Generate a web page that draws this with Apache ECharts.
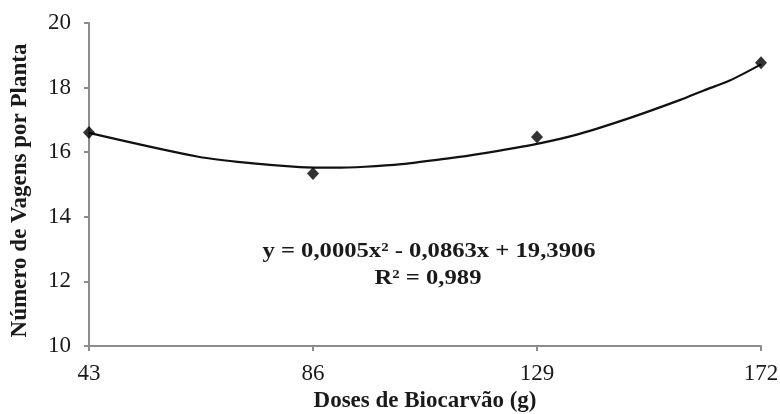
<!DOCTYPE html>
<html lang="pt">
<head>
    <meta charset="UTF-8">
    <title>Vagens por Planta</title>
    <script src="https://cdn.jsdelivr.net/npm/echarts@6/dist/echarts.min.js"></script>
    <style>
        html, body { margin: 0; padding: 0; background: #fff; }
    </style>
</head>
<body>
<div id="chart" style="width: 780px;height:414px"></div>
<script>
    // doses e medias observadas
    var doses = [43, 86, 129, 172];
    var vagens = [16.61, 15.34, 16.47, 18.77];

    var trendX = [43, 64, 74, 83.5, 90, 96, 103, 112, 118, 129, 137, 147, 156.5, 161, 166, 172];
    var trendY = [16.6, 15.86, 15.66, 15.54, 15.52, 15.55, 15.63, 15.81, 15.95, 16.26, 16.56, 17.07, 17.62, 17.91, 18.22, 18.72];

    var yTicks = [10, 12, 14, 16, 18, 20];

    var chart = echarts.init(document.getElementById('chart'));

    var serif = '"Liberation Serif", "DejaVu Serif", serif';
    var pts = doses.map(function (d, i) { return [d, vagens[i]]; });
    var trend = trendX.map(function (d, i) { return [d, trendY[i]]; });

    var option = {
        animation: false,
        backgroundColor: '#fff',
        grid: {
            left: 89,
            right: 19,
            top: 23,
            bottom: 68,
            containLabel: false,
            outerBoundsMode: 'none'
        },
        xAxis: {
            type: 'value',
            min: 43,
            max: 172,
            interval: 43,
            name: 'Doses de Biocarvão (g)',
            nameLocation: 'middle',
            nameGap: 44,
            nameTextStyle: {
                color: '#1a1a1a',
                fontFamily: serif,
                fontWeight: 'bold',
                fontSize: 23
            },
            axisLine: { lineStyle: { color: '#8c8c8c', width: 2 } },
            axisTick: { show: true, length: 5, lineStyle: { color: '#8c8c8c', width: 2 } },
            axisLabel: {
                color: '#1a1a1a',
                fontFamily: serif,
                fontSize: 23,
                margin: 16
            },
            splitLine: { show: false }
        },
        yAxis: {
            type: 'value',
            min: yTicks[0],
            max: yTicks[yTicks.length - 1],
            interval: 2,
            name: 'Número de Vagens por Planta',
            nameLocation: 'middle',
            nameGap: 57,
            nameTextStyle: {
                color: '#1a1a1a',
                fontFamily: serif,
                fontWeight: 'bold',
                fontSize: 23,
                padding: [0, 12, 0, 0]
            },
            axisLine: { show: true, lineStyle: { color: '#8c8c8c', width: 2 } },
            axisTick: { show: true, length: 5, lineStyle: { color: '#8c8c8c', width: 2 } },
            axisLabel: {
                color: '#1a1a1a',
                fontFamily: serif,
                fontSize: 23,
                margin: 18
            },
            splitLine: { show: false }
        },
        graphic: [{
            type: 'text',
            x: 429,
            y: 251,
            scaleX: 1.12,
            style: {
                text: 'y = 0,0005x² - 0,0863x + 19,3906',
                fill: '#1a1a1a',
                font: 'bold 22px ' + serif,
                align: 'center',
                verticalAlign: 'middle'
            }
        }, {
            type: 'text',
            x: 428,
            y: 278,
            scaleX: 1.12,
            style: {
                text: 'R² = 0,989',
                fill: '#1a1a1a',
                font: 'bold 22px ' + serif,
                align: 'center',
                verticalAlign: 'middle'
            }
        }],
        series: [{
            name: 'tendencia',
            type: 'line',
            smooth: 0.3,
            showSymbol: false,
            symbol: 'none',
            lineStyle: { color: '#111', width: 2.2 },
            data: trend,
            z: 2
        }, {
            name: 'observado',
            type: 'scatter',
            symbol: 'diamond',
            symbolSize: [12, 13],
            itemStyle: { color: '#000' },
            data: pts,
            z: 3
        }]
    };
    chart.setOption(option);
</script>
</body>
</html>
